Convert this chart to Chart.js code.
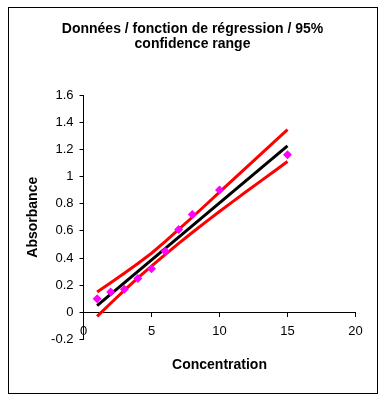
<!DOCTYPE html>
<html>
<head>
<meta charset="utf-8">
<script src="https://cdn.jsdelivr.net/npm/chart.js@4"></script>
<style>
    body { margin: 0; background: #fff; }
    #wrap { position: relative; width: 385px; height: 400px; }
    #frame {
        position: absolute; left: 8px; top: 7px; width: 368px; height: 385px;
        border: 1px solid #000; pointer-events: none;
    }
</style>
</head>
<body>
<div id="wrap">
    <canvas id="regChart" width="385" height="400"></canvas>
    <div id="frame"></div>
</div>
<script>
// measured points
const concentration = [1, 2, 3, 4, 5, 6, 7, 8, 10, 15];
const absorbance = [0.1, 0.15, 0.17, 0.25, 0.32, 0.45, 0.61, 0.72, 0.9, 1.16];

// regression line
const fitX = [1, 15];
const fitY = [0.05, 1.225];

// 95% band, read along x
const bandX = [1, 2, 3, 4, 5, 6, 7, 8, 9, 10, 11, 12, 13, 14, 15];
const upperY = [0.15, 0.218, 0.288, 0.36, 0.435, 0.52, 0.61, 0.7, 0.792, 0.885, 0.977, 1.069, 1.161, 1.253, 1.345];
const lowerY = [-0.03, 0.067, 0.162, 0.253, 0.34, 0.425, 0.508, 0.588, 0.666, 0.742, 0.817, 0.891, 0.964, 1.037, 1.11];

// axis ticks
const xTicks = [0, 5, 10, 15, 20];
const yTicks = [-0.2, 0, 0.2, 0.4, 0.6, 0.8, 1, 1.2, 1.4, 1.6];

const FONT = 'Liberation Sans, Arial, sans-serif';
const toXY = (xs, ys) => xs.map((x, i) => ({x: x, y: ys[i]}));

function lineSet(label, xs, ys, color) {
    return {
        type: 'line',
        label: label,
        data: toXY(xs, ys),
        xAxisID: 'x',
        borderColor: color,
        borderWidth: 3,
        pointRadius: 0,
        fill: false,
        tension: 0
    };
}

const ctx = document.getElementById('regChart').getContext('2d');
new Chart(ctx, {
    type: 'scatter',
    data: {
        datasets: [
            {
                label: 'Données',
                data: toXY(concentration, absorbance),
                xAxisID: 'x',
                pointStyle: 'rectRot',
                pointRadius: 4.5,
                backgroundColor: '#ff00ff',
                borderColor: '#ff00ff',
                borderWidth: 0
            },
            lineSet('Régression', fitX, fitY, '#000000'),
            lineSet('95% haut', bandX, upperY, '#ff0000'),
            lineSet('95% bas', bandX, lowerY, '#ff0000')
        ]
    },
    options: {
        responsive: false,
        animation: false,
        layout: { padding: 0 },
        plugins: {
            legend: { display: false },
            tooltip: { enabled: false },
            title: {
                display: true,
                text: ['Données / fonction de régression / 95%', 'confidence range'],
                color: '#000',
                font: { family: FONT, size: 14, weight: 'bold', lineHeight: 1.1 },
                padding: { top: 21.3, bottom: 42.9 }
            }
        },
        scales: {
            // axis line through y = 0, with ticks and labels
            x: {
                type: 'linear',
                position: { y: 0 },
                min: 0,
                max: 20,
                afterBuildTicks: s => { s.ticks = xTicks.map(v => ({value: v})); },
                ticks: { color: '#000', padding: 7, font: { family: FONT, size: 13 } },
                grid: { drawOnChartArea: false, drawTicks: true, tickLength: 4, color: '#000' },
                border: { display: true, color: '#000', width: 1 }
            },
            // bottom space and axis title
            x2: {
                type: 'linear',
                axis: 'x',
                position: 'bottom',
                min: 0,
                max: 20,
                afterFit: s => { s.height = 60.5; },
                ticks: { display: false },
                grid: { display: false, drawTicks: false },
                border: { display: false },
                title: {
                    display: true,
                    text: 'Concentration',
                    color: '#000',
                    font: { family: FONT, size: 14, weight: 'bold', lineHeight: 1.2 },
                    padding: { top: 0, bottom: 26.6 }
                }
            },
            y: {
                type: 'linear',
                position: 'left',
                min: -0.2,
                max: 1.6,
                afterBuildTicks: s => { s.ticks = yTicks.map(v => ({value: v})); },
                afterFit: s => { s.width = 83.5; },
                ticks: {
                    color: '#000',
                    padding: 6,
                    font: { family: FONT, size: 13 },
                    callback: v => String(Number(v.toFixed(1)))
                },
                grid: { drawOnChartArea: false, drawTicks: true, tickLength: 4, color: '#000' },
                border: { display: true, color: '#000', width: 1 },
                title: {
                    display: true,
                    text: 'Absorbance',
                    color: '#000',
                    font: { family: FONT, size: 14, weight: 'bold', lineHeight: 1.2 },
                    padding: { top: 24.6, bottom: 0 }
                }
            },
            // empty right margin so the title centres on the whole frame
            yR: {
                type: 'linear',
                axis: 'y',
                position: 'right',
                min: -0.2,
                max: 1.6,
                afterFit: s => { s.width = 29.5; },
                ticks: { display: false },
                grid: { display: false, drawTicks: false },
                border: { display: false }
            }
        }
    }
});
</script>
</body>
</html>
